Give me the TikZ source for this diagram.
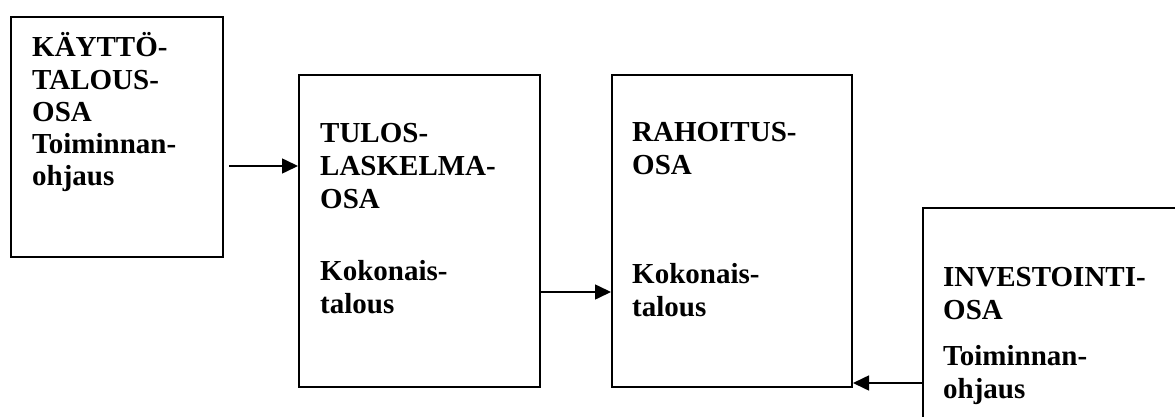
\documentclass[tikz,border=0pt]{standalone}
\usepackage{fontspec}
\setmainfont{Liberation Serif}
\usetikzlibrary{arrows.meta}
\begin{document}
\begin{tikzpicture}[x=1pt,y=-1pt,
  boxnode/.style={draw=black, line width=2pt, inner sep=0pt, anchor=north west},
  label/.style={inner sep=0pt, anchor=base west, align=left,
    font=\fontsize{29}{33}\selectfont\bfseries},
  arr/.style={line width=1.6pt, -{Triangle[length=16pt,width=15pt]}}]
\useasboundingbox (0,0) rectangle (1175,417);
\begin{scope}
\clip (0,0) rectangle (1175,417);
\node[boxnode, minimum width=212pt, minimum height=240pt] (b1) at (10,16) {};
\node[boxnode, minimum width=241pt, minimum height=312pt] (b2) at (298,74) {};
\node[boxnode, minimum width=240pt, minimum height=312pt] (b3) at (611,74) {};
\node[boxnode, minimum width=280pt, minimum height=240pt] (b4) at (922,207) {};
\end{scope}
% anchor base = baseline of the last line
\node[label, font=\fontsize{29}{32}\selectfont\bfseries] (t1) at (32,185) {KÄYTTÖ-\\TALOUS-\\OSA\\Toiminnan-\\ohjaus};
\node[label] (t2a) at (320,208) {TULOS-\\LASKELMA-\\OSA};
\node[label] (t2b) at (320,313) {Kokonais-\\talous};
\node[label] (t3a) at (632,175) {RAHOITUS-\\OSA};
\node[label] (t3b) at (632,316) {Kokonais-\\talous};
\node[label] (t4a) at (943,319) {INVESTOINTI-\\OSA};
\node[label] (t4b) at (943,398) {Toiminnan-\\ohjaus};
\draw[arr] ([xshift=5pt]b1.east |- 0,166) -- (b2.west |- 0,166);
\draw[arr] (b2.east |- 0,292) -- (b3.west |- 0,292);
\draw[arr] (b4.west |- 0,383) -- (b3.east |- 0,383);
\end{tikzpicture}
\end{document}
